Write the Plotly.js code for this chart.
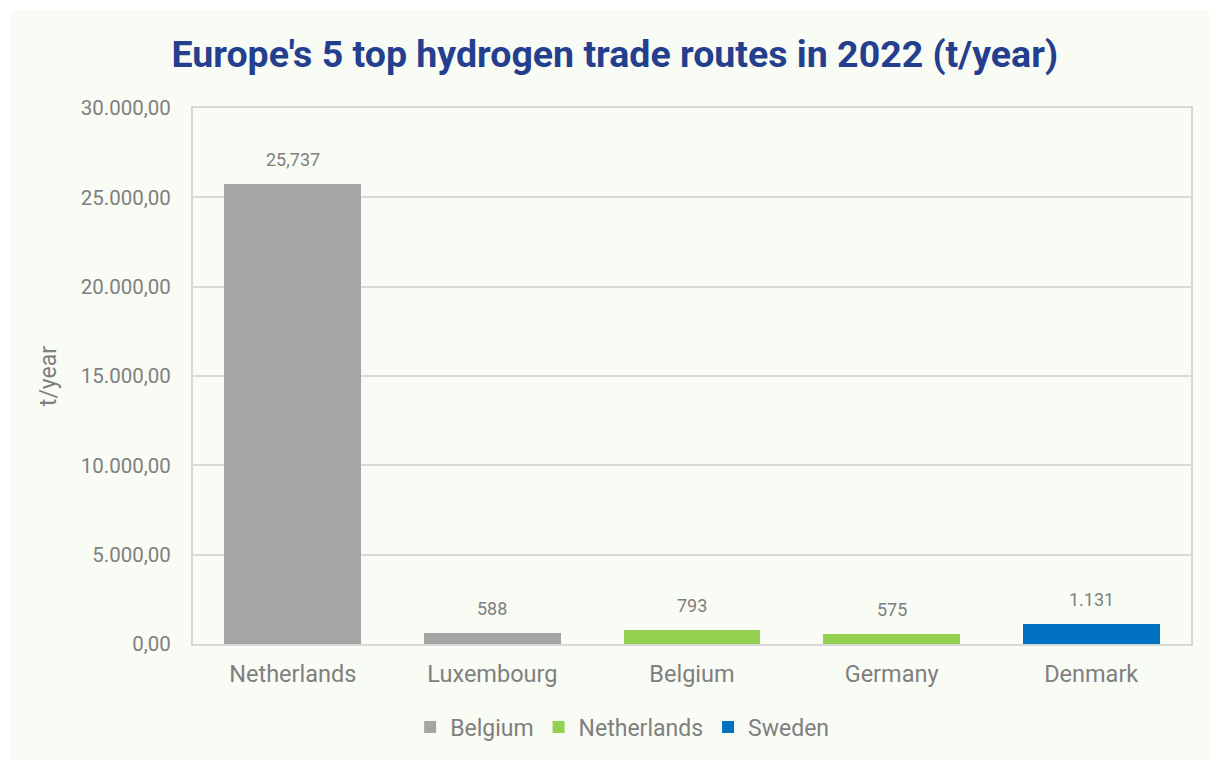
<!DOCTYPE html>
<html>
<head>
<meta charset="utf-8">
<script src="https://cdn.plot.ly/plotly-3.0.1.min.js"></script>
<style>
  html, body { margin: 0; padding: 0; background: #ffffff; }
  #chart { position: absolute; left: 11px; top: 10px; width: 1198px; height: 750px; }
</style>
</head>
<body>
<div id="chart"></div>
<script>
// Destination countries (x categories)
const categories = ["Netherlands", "Luxembourg", "Belgium", "Germany", "Denmark"];
// Origin series values (t/year); null where the route is not from that origin
const belgium     = [25737, 588, null, null, null];
const netherlands = [null, null, 793, 575, null];
const sweden      = [null, null, null, null, 1131];
// Data label texts as printed on the chart
const labelTexts  = ["25,737", "588", "793", "575", "1.131"];
const allValues   = [25737, 588, 793, 575, 1131];
// Y-axis ticks
const yTickVals   = [0, 5000, 10000, 15000, 20000, 25000, 30000];
const yTickText   = ["0,00", "5.000,00", "10.000,00", "15.000,00", "20.000,00", "25.000,00", "30.000,00"];

const textGray = "#7f7f7f";
const font = "Roboto, 'Noto Sans', sans-serif";

const traces = [
  { name: "Belgium", y: belgium, color: "#a5a5a5" },
  { name: "Netherlands", y: netherlands, color: "#92d050" },
  { name: "Sweden", y: sweden, color: "#0070c0" }
].map(s => ({
  type: "bar",
  name: s.name,
  x: categories,
  y: s.y,
  marker: { color: s.color, line: { width: 0 } },
  hoverinfo: "x+y+name"
}));

const annotations = categories.map((c, i) => ({
  x: c, y: allValues[i], xref: "x", yref: "y",
  text: labelTexts[i], showarrow: false,
  yanchor: "bottom", yshift: 12,
  font: { family: font, size: 18, color: textGray }
}));

const layout = {
  width: 1198, height: 750,
  paper_bgcolor: "#f9fbf5",
  plot_bgcolor: "#f9fbf5",
  margin: { l: 182, r: 18, t: 98, b: 116 },
  barmode: "stack",
  bargap: 0.314,
  title: {
    text: "<b>Europe's 5 top hydrogen trade routes in 2022 (t/year)</b>",
    font: { family: font, size: 37.5, color: "#243f8e" },
    x: 0.504, xanchor: "center", xref: "container",
    y: 1 - 44 / 750, yanchor: "middle", yref: "container"
  },
  xaxis: {
    type: "category",
    tickfont: { family: font, size: 23.5, color: textGray },
    ticks: "outside", ticklen: 8, tickcolor: "rgba(0,0,0,0)",
    showline: true, linecolor: "#d9d9d9", linewidth: 2,
    mirror: true,
    showgrid: false, zeroline: false
  },
  yaxis: {
    range: [0, 30000],
    tickvals: yTickVals, ticktext: yTickText,
    tickfont: { family: font, size: 20.5, color: textGray },
    ticks: "outside", ticklen: 16, tickcolor: "rgba(0,0,0,0)",
    showgrid: true, gridcolor: "#d9d9d9", gridwidth: 1.5,
    showline: true, linecolor: "#d9d9d9", linewidth: 2, mirror: true,
    zeroline: false,
    title: { text: "t/year", font: { family: font, size: 23, color: textGray }, standoff: 18 }
  },
  legend: {
    orientation: "h",
    x: 0.43, xanchor: "center", xref: "paper",
    y: 1 - 717 / 750, yanchor: "middle", yref: "container",
    font: { family: font, size: 23, color: textGray },
    bgcolor: "rgba(0,0,0,0)",
    itemwidth: 30, traceorder: "normal"
  },
  annotations: annotations,
  showlegend: true
};

Plotly.newPlot("chart", traces, layout, { displayModeBar: false, responsive: false });
</script>
</body>
</html>
